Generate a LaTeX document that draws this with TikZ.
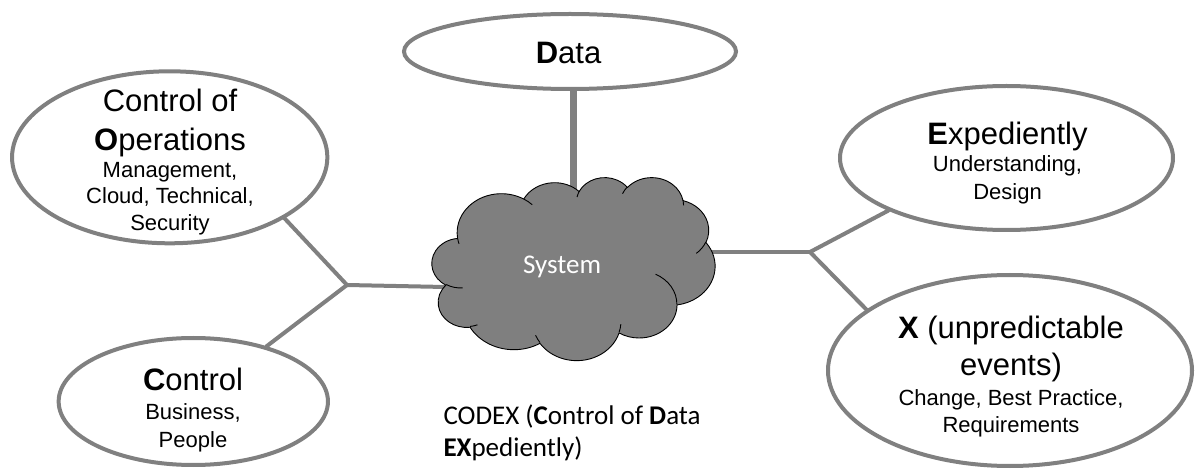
\documentclass[tikz,border=0pt]{standalone}
\usepackage{fontspec}
\setmainfont{Liberation Sans}
\newfontfamily\calfont{Carlito}
\usetikzlibrary{shapes.geometric}
\pgfdeclarelayer{bg}
\pgfsetlayers{bg,main}
\definecolor{lgray}{RGB}{128,128,128}
\definecolor{cldgray}{RGB}{127,127,127}
% convert a DrawingML arcTo (visual angles) into TikZ parametric angles
\newcommand\cldprep[5]{%
  \pgfmathsetmacro\cldtmpa{atan2((#2)*sin(#4),(#3)*cos(#4))}%
  \pgfmathsetmacro\cldtmpb{atan2((#2)*sin((#4)+(#5)),(#3)*cos((#4)+(#5)))}%
  \pgfmathsetmacro\cldtmpd{\cldtmpb-\cldtmpa}%
  \pgfmathsetmacro\cldtmpd{\cldtmpd<0?\cldtmpd+360:\cldtmpd}%
  \expandafter\xdef\csname cld#1s\endcsname{\cldtmpa}%
  \expandafter\xdef\csname cld#1d\endcsname{\cldtmpd}%
}
\begin{document}
\begin{tikzpicture}[x=1pt,y=-1pt,
  bub/.style={ellipse, draw=lgray, line width=4pt, fill=white, inner sep=0pt},
  con/.style={draw=lgray, line width=4pt, line cap=round},
  big/.style={font=\fontsize{31}{37}\selectfont, anchor=base, inner sep=0pt},
  sm/.style={font=\fontsize{22}{26}\selectfont, anchor=base, inner sep=0pt},
  cal/.style={font=\calfont\fontsize{27}{32}\selectfont, anchor=base west, inner sep=0pt},
  cldline/.style={draw=black, line width=0.9pt, line join=round}]
\useasboundingbox (0,0) rectangle (1195,470);
% precompute cloud arcs
\cldprep{A}{67.53}{91.90}{-190.48748}{123.78053}
\cldprep{B}{53.33}{72.67}{-144.10238}{89.94523}
\cldprep{C}{43.65}{59.45}{-145.80792}{99.72302}
\cldprep{D}{48.57}{65.95}{-130.98607}{117.24173}
\cldprep{E}{53.33}{72.73}{-78.70888}{109.02692}
\cldprep{F}{67.75}{92.20}{-46.26725}{130.26900}
\cldprep{G}{57.85}{78.67}{0.62502}{114.03333}
\cldprep{H}{67.52}{92.15}{22.45160}{115.17255}
\cldprep{I}{77.20}{105.43}{66.24263}{75.71102}
\cldprep{J}{43.60}{59.18}{-274.94208}{146.73557}
\cldprep{K}{43.45}{59.45}{-246.82850}{152.51885}
\cldprep{a}{43.45}{59.45}{86.74200}{26.42950}
\cldprep{b}{43.60}{59.18}{73.61047}{11.44747}
\cldprep{c}{67.52}{92.15}{137.62415}{14.08110}
\cldprep{d}{67.52}{92.15}{6.45327}{15.99835}
\cldprep{e}{57.85}{78.67}{-70.29235}{70.91737}
\cldprep{f}{53.33}{72.73}{30.31803}{27.75150}
\cldprep{g}{48.57}{65.95}{-13.74433}{14.85890}
\cldprep{h}{48.57}{65.95}{-149.18145}{18.19537}
\cldprep{i}{43.65}{59.45}{-163.49427}{17.68635}
\cldprep{j}{67.53}{91.90}{-66.70695}{12.31935}
\cldprep{k}{67.53}{91.90}{157.65435}{11.85817}

% ellipses
\node[bub, minimum width=332pt, minimum height=75pt] (data) at (570,51.5) {};
\node[bub, minimum width=315.3pt, minimum height=172pt] (cops) at (169.7,157.3) {};
\node[bub, minimum width=269.3pt, minimum height=127pt] (ctrl) at (193.3,401.5) {};
\node[bub, minimum width=333pt, minimum height=144pt] (exp) at (1006.5,158) {};
\node[bub, minimum width=364pt, minimum height=191pt] (xev) at (1010,370.5) {};

% texts
\node[big] (dataT) at (568.5,64) {\textbf{D}ata};
\node[big] (copsA) at (170,111.3) {Control of};
\node[big] (copsB) at (170,150.3) {\textbf{O}perations};
\node[sm] (copsC) at (170,177.4) {Management,};
\node[sm] (copsD) at (170,204) {Cloud, Technical,};
\node[sm] (copsE) at (170,230.4) {Security};
\node[big] (ctrlA) at (193,391) {\textbf{C}ontrol};
\node[sm] (ctrlB) at (193,420) {Business,};
\node[sm] (ctrlC) at (193,447.2) {People};
\node[big] (expA) at (1007.5,144.4) {\textbf{E}xpediently};
\node[sm] (expB) at (1007.5,172) {Understanding,};
\node[sm] (expC) at (1007.5,199.4) {Design};
\node[big] (xevA) at (1011,339) {\textbf{X} (unpredictable};
\node[big] (xevB) at (1011,376) {events)};
\node[sm] (xevC) at (1011,405.4) {Change, Best Practice,};
\node[sm] (xevD) at (1011,432) {Requirements};

% cloud
\node[inner sep=0pt, minimum width=283pt, minimum height=183pt] (cloud) at (573.5,268.5) {};
\begin{scope}[shift={(432,177)}, x=0.65509pt, y=-0.42361pt]
\draw[cldline, fill=cldgray] (39.00,143.70)
  arc[start angle=\cldAs, delta angle=\cldAd, x radius=67.53, y radius=91.90]
  arc[start angle=\cldBs, delta angle=\cldBd, x radius=53.33, y radius=72.67]
  arc[start angle=\cldCs, delta angle=\cldCd, x radius=43.65, y radius=59.45]
  arc[start angle=\cldDs, delta angle=\cldDd, x radius=48.57, y radius=65.95]
  arc[start angle=\cldEs, delta angle=\cldEd, x radius=53.33, y radius=72.73]
  arc[start angle=\cldFs, delta angle=\cldFd, x radius=67.75, y radius=92.20]
  arc[start angle=\cldGs, delta angle=\cldGd, x radius=57.85, y radius=78.67]
  arc[start angle=\cldHs, delta angle=\cldHd, x radius=67.52, y radius=92.15]
  arc[start angle=\cldIs, delta angle=\cldId, x radius=77.20, y radius=105.43]
  arc[start angle=\cldJs, delta angle=\cldJd, x radius=43.60, y radius=59.18]
  arc[start angle=\cldKs, delta angle=\cldKd, x radius=43.45, y radius=59.45]
  -- cycle;
\draw[cldline]
  (46.93,261.77) arc[start angle=\cldas, delta angle=\cldad, x radius=43.45, y radius=59.45]
  (69.28,348.99) arc[start angle=\cldbs, delta angle=\cldbd, x radius=43.60, y radius=59.18]
  (164.78,390.90) arc[start angle=\cldcs, delta angle=\cldcd, x radius=67.52, y radius=92.15]
  (288.27,347.51) arc[start angle=\cldds, delta angle=\clddd, x radius=67.52, y radius=92.15]
  (341.29,229.54) arc[start angle=\cldes, delta angle=\clded, x radius=57.85, y radius=78.67]
  (417.98,153.54) arc[start angle=\cldfs, delta angle=\cldfd, x radius=53.33, y radius=72.73]
  (383.24,54.26) arc[start angle=\cldgs, delta angle=\cldgd, x radius=48.57, y radius=65.95]
  (290.78,39.52) arc[start angle=\cldhs, delta angle=\cldhd, x radius=48.57, y radius=65.95]
  (221.41,47.20) arc[start angle=\cldis, delta angle=\cldid, x radius=43.65, y radius=59.45]
  (140.00,51.92) arc[start angle=\cldjs, delta angle=\cldjd, x radius=67.53, y radius=91.90]
  (41.27,157.89) arc[start angle=\cldks, delta angle=\cldkd, x radius=67.53, y radius=91.90];
\end{scope}
\node[font=\calfont\fontsize{27}{32}\selectfont, text=white, anchor=base, inner sep=0pt] (sysT) at (562.2,273.7) {System};

% connection points
\coordinate (jl) at (347,285);
\coordinate (cl) at (445,287);
\coordinate (jr) at (810,252);
\coordinate (cr) at (705,252);
\coordinate (ctop) at (573,195);

\begin{pgfonlayer}{bg}
\draw[con, line width=7pt, line cap=butt] (ctop |- data.south) -- (ctop);
\draw[con] (cops.-28) -- (jl);
\draw[con] (jl) -- (cl);
\draw[con] (ctrl.37) -- (jl);
\draw[con] (cr) -- (jr);
\draw[con] (jr) -- (exp.204);
\draw[con] (jr) -- (xev.157);
\end{pgfonlayer}

% caption
\node[cal] (codexA) at (443.3,424.3) {CODEX (\textbf{C}ontrol of \textbf{D}ata};
\node[cal] (codexB) at (443.3,456.7) {\textbf{EX}pediently)};
\end{tikzpicture}
\end{document}
